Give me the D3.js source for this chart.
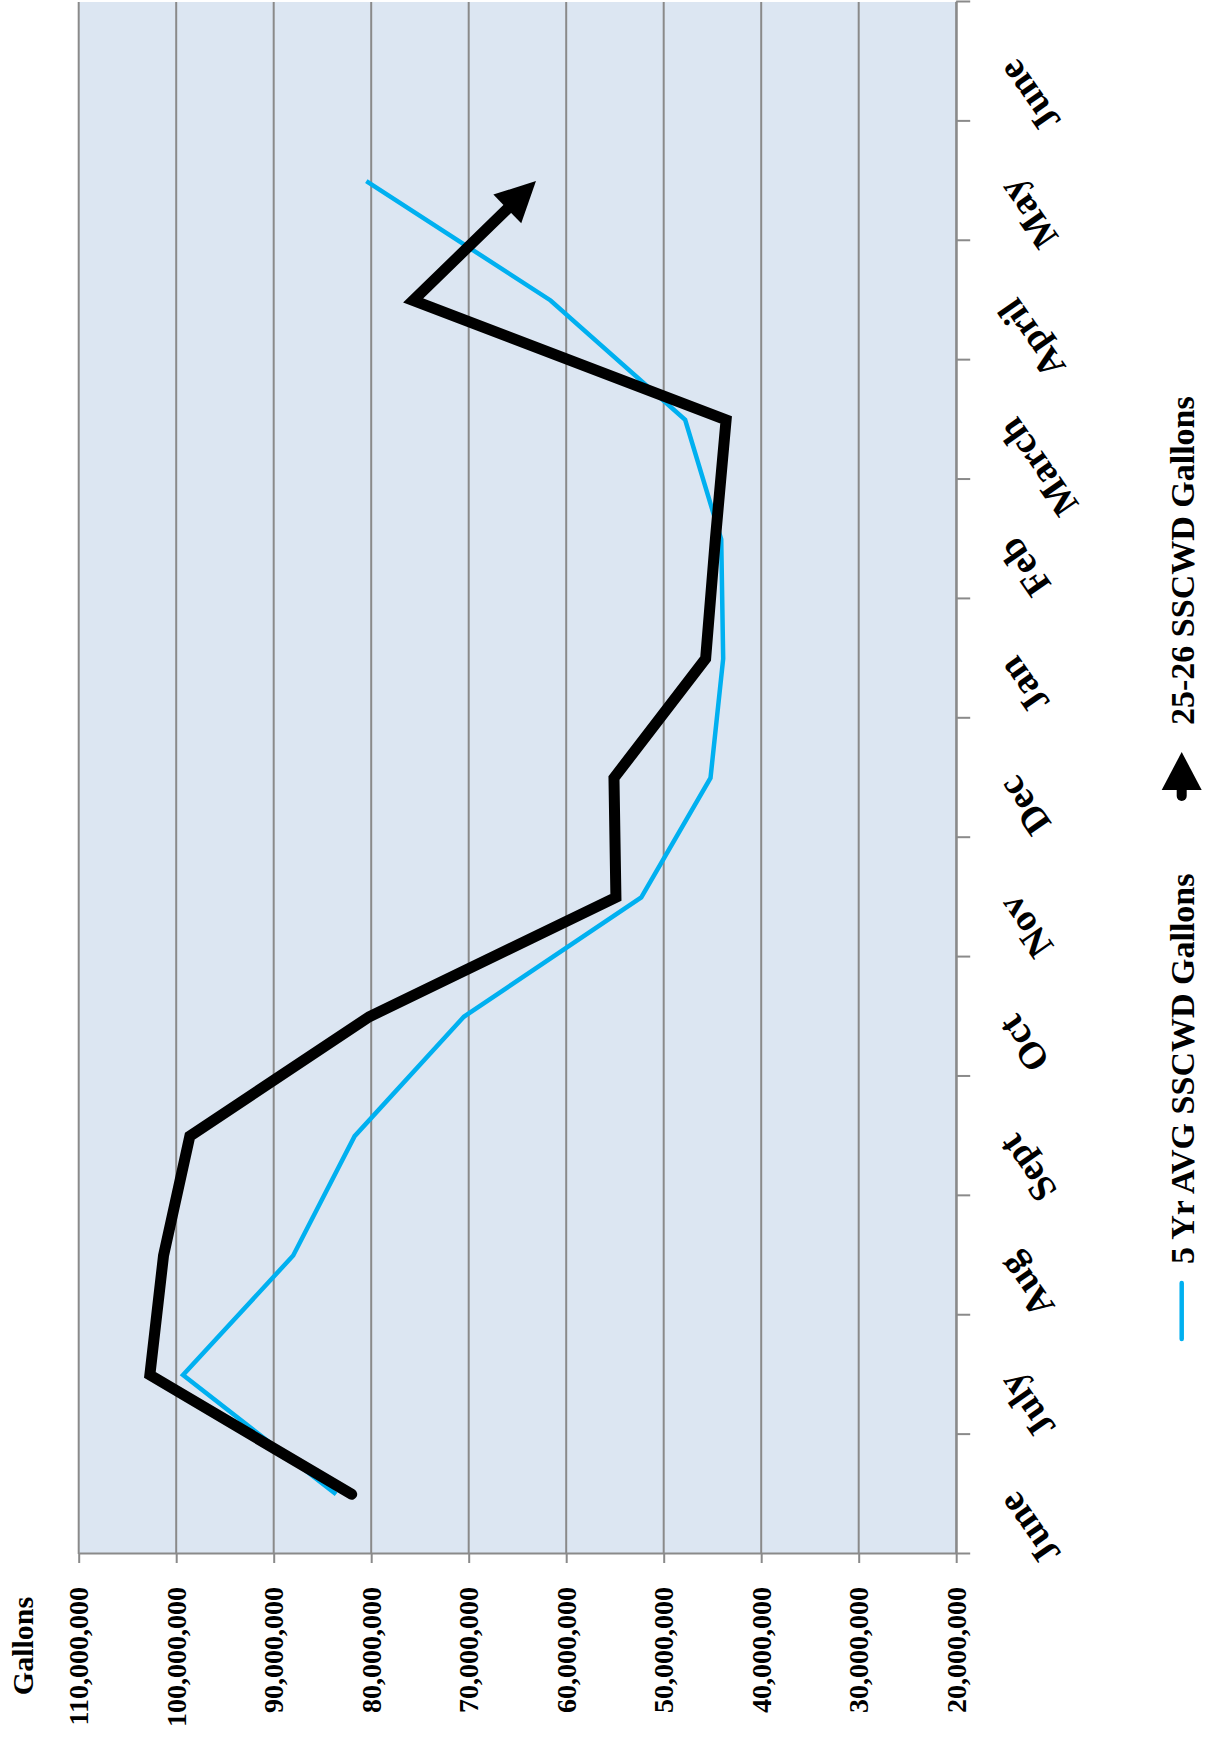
<!DOCTYPE html>
<html>
<head>
<meta charset="utf-8">
<script src="https://cdn.jsdelivr.net/npm/d3@7"></script>
<style>
  body { margin: 0; background: #fff; }
  text { font-family: "Palatino Linotype", "Book Antiqua", Palatino, "Liberation Serif", serif; font-weight: bold; fill: #000; }
</style>
</head>
<body>
<div id="chart"></div>
<script>
const months = ["June", "July", "Aug", "Sept", "Oct", "Nov", "Dec", "Jan", "Feb", "March", "April", "May", "June"];

const avgGallons = [83600000, 99300000, 88000000, 81700000, 70500000, 52300000,
                    45200000, 43900000, 44100000, 47800000, 61600000, 80500000];

const currentGallons = [82000000, 102700000, 101300000, 98600000, 80200000, 54900000,
                        55100000, 45700000, 44700000, 43600000, 75700000, 63100000];

const valueTicks = [20000000, 30000000, 40000000, 50000000, 60000000,
                    70000000, 80000000, 90000000, 100000000, 110000000];

const seriesNames = ["5 Yr AVG SSCWD Gallons", "25-26 SSCWD Gallons"];


function drawChart() {
  const plotLeft = 78.7, plotBottom = 1554;
  const plotLen = 1552,   // along the months
        plotDepth = 877.5; // along the gallons

  let svg = d3.select("#chart")
    .append("svg")
      .attr("width", 1206)
      .attr("height", 1739);

  // chart is laid out the usual way, then turned a quarter turn to the left
  let g = svg.append("g")
      .attr("transform", `translate(${plotLeft}, ${plotBottom}) rotate(-90)`);

  let x = d3.scaleBand()
    .domain(d3.range(months.length))
    .range([0, plotLen]);

  let xEdge = d3.scaleLinear()
    .domain([0, months.length])
    .range([0, plotLen]);

  let y = d3.scaleLinear()
    .domain([20000000, 110000000])
    .range([plotDepth, 0]);

  const mid = i => x(i) + x.bandwidth() / 2;

  g.append("rect")
     .attr("width", plotLen)
     .attr("height", plotDepth)
     .attr("fill", "#dce6f2");

  // gridlines
  g.append("g")
    .selectAll("line")
    .data(valueTicks)
    .join("line")
      .attr("x1", 0)
      .attr("x2", plotLen)
      .attr("y1", d => y(d))
      .attr("y2", d => y(d))
      .attr("stroke", "#8a8a8a")
      .attr("stroke-width", 2);

  // gallons axis
  let yAxis = g.append("g")
     .call(d3.axisLeft(y)
       .tickValues(valueTicks)
       .tickSize(9)
       .tickSizeOuter(0)
       .tickPadding(24)
       .tickFormat(d3.format(",")));
  yAxis.selectAll("path, line").attr("stroke", "#8a8a8a").attr("stroke-width", 2);
  yAxis.selectAll("text").style("font-size", "28px").attr("fill", "#000");

  // month axis ticks
  let xAxis = g.append("g")
     .attr("transform", `translate(0, ${plotDepth})`)
     .call(d3.axisBottom(xEdge)
       .tickValues(d3.range(months.length + 1))
       .tickSize(14)
       .tickSizeOuter(0)
       .tickFormat(""));
  xAxis.selectAll("path, line").attr("stroke", "#8a8a8a").attr("stroke-width", 2);

  g.append("g")
    .selectAll("text")
    .data(months)
    .join("text")
      .attr("transform", (d, i) => `translate(${mid(i) - 3}, ${plotDepth + 50}) rotate(-35)`)
      .attr("text-anchor", "end")
      .attr("dy", "0.35em")
      .style("font-size", "38px")
      .text(d => d);

  // axis title
  g.append("text")
     .attr("x", -92)
     .attr("y", -56)
     .attr("dy", "0.35em")
     .attr("text-anchor", "middle")
     .style("font-size", "30px")
     .text("Gallons");

  // 5 year average
  let line = d3.line()
    .x((d, i) => mid(i))
    .y(d => y(d));

  g.append("path")
     .datum(avgGallons)
     .attr("fill", "none")
     .attr("stroke", "#00b0f0")
     .attr("stroke-width", 4.5)
     .attr("d", line);

  // this year, ending in an arrow head
  let pts = currentGallons.map((v, i) => [mid(i), y(v)]);
  const headLen = 40, headHalf = 20;
  let tip = pts[pts.length - 1], prev = pts[pts.length - 2];
  let dx = tip[0] - prev[0], dy = tip[1] - prev[1];
  let len = Math.hypot(dx, dy);
  let ux = dx / len, uy = dy / len;
  let base = [tip[0] - ux * headLen, tip[1] - uy * headLen];
  let linePts = pts.slice(0, -1).concat([[base[0] + ux * 2, base[1] + uy * 2]]);

  g.append("path")
     .datum(linePts)
     .attr("fill", "none")
     .attr("stroke", "#000")
     .attr("stroke-width", 11)
     .attr("stroke-linecap", "round")
     .attr("stroke-linejoin", "miter")
     .attr("d", d3.line());

  g.append("path")
     .attr("fill", "#000")
     .attr("d", `M${tip[0]},${tip[1]}L${base[0] - uy * headHalf},${base[1] + ux * headHalf}` +
                `L${base[0] + uy * headHalf},${base[1] - ux * headHalf}Z`);

  // legend
  const legY = 1103;
  let leg = g.append("g");

  leg.append("line")
     .attr("x1", 215).attr("x2", 271)
     .attr("y1", legY).attr("y2", legY)
     .attr("stroke", "#00b0f0")
     .attr("stroke-width", 4.5)
     .attr("stroke-linecap", "round");

  leg.append("text")
     .attr("x", 290)
     .attr("y", legY)
     .attr("dy", "0.35em")
     .style("font-size", "34px")
     .text(seriesNames[0]);

  leg.append("line")
     .attr("x1", 758).attr("x2", 782)
     .attr("y1", legY).attr("y2", legY)
     .attr("stroke", "#000")
     .attr("stroke-width", 10)
     .attr("stroke-linecap", "round");

  leg.append("path")
     .attr("fill", "#000")
     .attr("d", `M802,${legY}L764,${legY - 20}L764,${legY + 20}Z`);

  leg.append("text")
     .attr("x", 829)
     .attr("y", legY)
     .attr("dy", "0.35em")
     .style("font-size", "34px")
     .text(seriesNames[1]);
}

drawChart();
</script>
</body>
</html>
